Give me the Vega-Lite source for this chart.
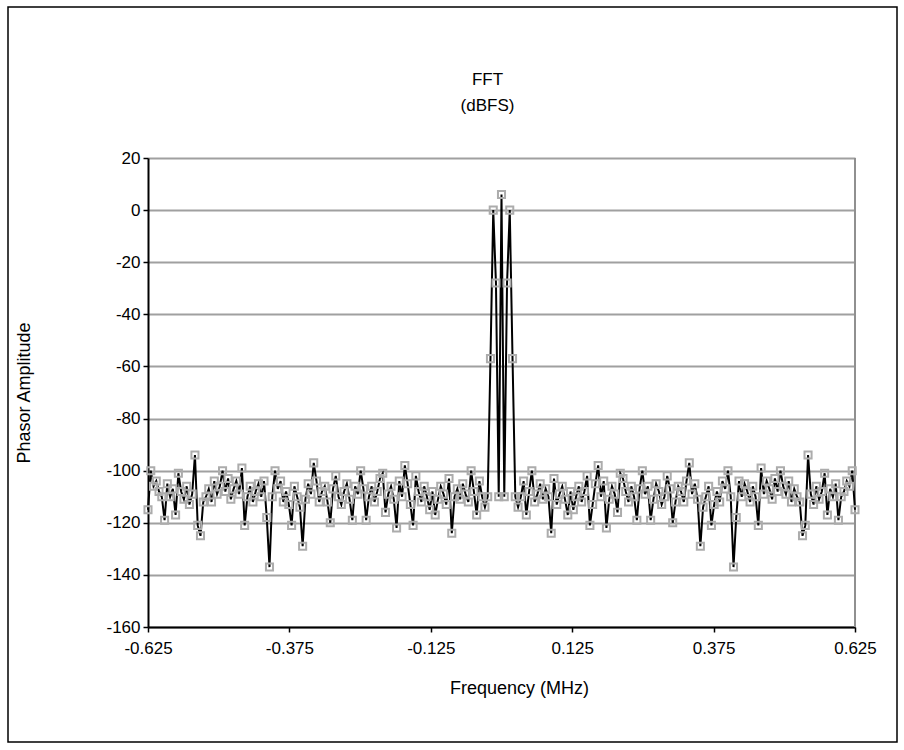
{
"$schema": "https://vega.github.io/schema/vega-lite/v6.json",
"width": 889, "height": 735,
"autosize": "none",
"padding": {"left": 8, "top": 7, "right": 7, "bottom": 8},
"background": "white",
"config": {
  "view": {"stroke": "#000", "strokeWidth": 1.5},
  "font": "Liberation Sans",
  "locale": {"number": {"decimal": ".", "thousands": ",", "grouping": [3], "currency": ["$", ""], "minus": "-"}}
},
"title": {"text": ["FFT", "(dBFS)"], "anchor": "middle", "frame": "group", "orient": "top", "baseline": "top", "offset": -60, "dx": 35, "dy": 48, "fontSize": 17, "fontWeight": "normal", "lineHeight": 26, "color": "#000", "font": "Liberation Sans"},
"data": {"values": [
{"f":-0.625,"a":-115},{"f":-0.6201,"a":-100},{"f":-0.6152,"a":-106},{"f":-0.6104,"a":-104},{"f":-0.6055,"a":-108},{"f":-0.6006,"a":-110},{"f":-0.5957,"a":-119},{"f":-0.5908,"a":-105},{"f":-0.5859,"a":-110},{"f":-0.5811,"a":-107},
{"f":-0.5762,"a":-117},{"f":-0.5713,"a":-101},{"f":-0.5664,"a":-108},{"f":-0.5615,"a":-111},{"f":-0.5566,"a":-106},{"f":-0.5518,"a":-113},{"f":-0.5469,"a":-109},{"f":-0.5420,"a":-94},{"f":-0.5371,"a":-121},{"f":-0.5322,"a":-125},
{"f":-0.5273,"a":-112},{"f":-0.5225,"a":-110},{"f":-0.5176,"a":-107},{"f":-0.5127,"a":-112},{"f":-0.5078,"a":-104},{"f":-0.5029,"a":-109},{"f":-0.4980,"a":-106},{"f":-0.4932,"a":-100},{"f":-0.4883,"a":-108},{"f":-0.4834,"a":-103},
{"f":-0.4785,"a":-111},{"f":-0.4736,"a":-107},{"f":-0.4688,"a":-104},{"f":-0.4639,"a":-109},{"f":-0.4590,"a":-99},{"f":-0.4541,"a":-121},{"f":-0.4492,"a":-110},{"f":-0.4443,"a":-106},{"f":-0.4395,"a":-112},{"f":-0.4346,"a":-108},
{"f":-0.4297,"a":-105},{"f":-0.4248,"a":-110},{"f":-0.4199,"a":-104},{"f":-0.4150,"a":-118},{"f":-0.4102,"a":-137},{"f":-0.4053,"a":-110},{"f":-0.4004,"a":-100},{"f":-0.3955,"a":-107},{"f":-0.3906,"a":-104},{"f":-0.3857,"a":-112},
{"f":-0.3809,"a":-108},{"f":-0.3760,"a":-113},{"f":-0.3711,"a":-121},{"f":-0.3662,"a":-106},{"f":-0.3613,"a":-110},{"f":-0.3564,"a":-114},{"f":-0.3516,"a":-129},{"f":-0.3467,"a":-111},{"f":-0.3418,"a":-105},{"f":-0.3369,"a":-109},
{"f":-0.3320,"a":-97},{"f":-0.3271,"a":-104},{"f":-0.3223,"a":-112},{"f":-0.3174,"a":-108},{"f":-0.3125,"a":-106},{"f":-0.3076,"a":-112},{"f":-0.3027,"a":-120},{"f":-0.2979,"a":-107},{"f":-0.2930,"a":-102},{"f":-0.2881,"a":-110},
{"f":-0.2832,"a":-113},{"f":-0.2783,"a":-108},{"f":-0.2734,"a":-105},{"f":-0.2686,"a":-111},{"f":-0.2637,"a":-119},{"f":-0.2588,"a":-106},{"f":-0.2539,"a":-109},{"f":-0.2490,"a":-100},{"f":-0.2441,"a":-107},{"f":-0.2393,"a":-119},
{"f":-0.2344,"a":-110},{"f":-0.2295,"a":-106},{"f":-0.2246,"a":-112},{"f":-0.2197,"a":-108},{"f":-0.2148,"a":-103},{"f":-0.2100,"a":-101},{"f":-0.2051,"a":-116},{"f":-0.2002,"a":-109},{"f":-0.1953,"a":-106},{"f":-0.1904,"a":-111},
{"f":-0.1855,"a":-122},{"f":-0.1807,"a":-104},{"f":-0.1758,"a":-110},{"f":-0.1709,"a":-98},{"f":-0.1660,"a":-105},{"f":-0.1611,"a":-113},{"f":-0.1563,"a":-121},{"f":-0.1514,"a":-102},{"f":-0.1465,"a":-108},{"f":-0.1416,"a":-112},
{"f":-0.1367,"a":-106},{"f":-0.1318,"a":-110},{"f":-0.1270,"a":-115},{"f":-0.1221,"a":-108},{"f":-0.1172,"a":-117},{"f":-0.1123,"a":-111},{"f":-0.1074,"a":-106},{"f":-0.1025,"a":-109},{"f":-0.0977,"a":-113},{"f":-0.0928,"a":-103},
{"f":-0.0879,"a":-124},{"f":-0.0830,"a":-110},{"f":-0.0781,"a":-107},{"f":-0.0732,"a":-111},{"f":-0.0684,"a":-105},{"f":-0.0635,"a":-109},{"f":-0.0586,"a":-112},{"f":-0.0537,"a":-100},{"f":-0.0488,"a":-108},{"f":-0.0439,"a":-117},
{"f":-0.0391,"a":-104},{"f":-0.0342,"a":-110},{"f":-0.0293,"a":-114},{"f":-0.0244,"a":-110},{"f":-0.0195,"a":-57},{"f":-0.0146,"a":0},{"f":-0.0098,"a":-28},{"f":-0.0049,"a":-110},{"f":0,"a":6},
{"f":0.0049,"a":-110},{"f":0.0098,"a":-28},{"f":0.0146,"a":0},{"f":0.0195,"a":-57},{"f":0.0244,"a":-110},{"f":0.0293,"a":-114},{"f":0.0342,"a":-110},{"f":0.0391,"a":-104},{"f":0.0439,"a":-117},{"f":0.0488,"a":-108},
{"f":0.0537,"a":-100},{"f":0.0586,"a":-112},{"f":0.0635,"a":-109},{"f":0.0684,"a":-105},{"f":0.0732,"a":-111},{"f":0.0781,"a":-107},{"f":0.0830,"a":-110},{"f":0.0879,"a":-124},{"f":0.0928,"a":-103},{"f":0.0977,"a":-113},
{"f":0.1025,"a":-109},{"f":0.1074,"a":-106},{"f":0.1123,"a":-111},{"f":0.1172,"a":-117},{"f":0.1221,"a":-108},{"f":0.1270,"a":-115},{"f":0.1318,"a":-110},{"f":0.1367,"a":-106},{"f":0.1416,"a":-112},{"f":0.1465,"a":-108},
{"f":0.1514,"a":-102},{"f":0.1563,"a":-121},{"f":0.1611,"a":-113},{"f":0.1660,"a":-105},{"f":0.1709,"a":-98},{"f":0.1758,"a":-110},{"f":0.1807,"a":-104},{"f":0.1855,"a":-122},{"f":0.1904,"a":-111},{"f":0.1953,"a":-106},
{"f":0.2002,"a":-109},{"f":0.2051,"a":-116},{"f":0.2100,"a":-101},{"f":0.2148,"a":-103},{"f":0.2197,"a":-108},{"f":0.2246,"a":-112},{"f":0.2295,"a":-106},{"f":0.2344,"a":-110},{"f":0.2393,"a":-119},{"f":0.2441,"a":-107},
{"f":0.2490,"a":-100},{"f":0.2539,"a":-109},{"f":0.2588,"a":-106},{"f":0.2637,"a":-119},{"f":0.2686,"a":-111},{"f":0.2734,"a":-105},{"f":0.2783,"a":-108},{"f":0.2832,"a":-113},{"f":0.2881,"a":-110},{"f":0.2930,"a":-102},
{"f":0.2979,"a":-107},{"f":0.3027,"a":-120},{"f":0.3076,"a":-112},{"f":0.3125,"a":-106},{"f":0.3174,"a":-108},{"f":0.3223,"a":-112},{"f":0.3271,"a":-104},{"f":0.3320,"a":-97},{"f":0.3369,"a":-109},{"f":0.3418,"a":-105},
{"f":0.3467,"a":-111},{"f":0.3516,"a":-129},{"f":0.3564,"a":-114},{"f":0.3613,"a":-110},{"f":0.3662,"a":-106},{"f":0.3711,"a":-121},{"f":0.3760,"a":-113},{"f":0.3809,"a":-108},{"f":0.3857,"a":-112},{"f":0.3906,"a":-104},
{"f":0.3955,"a":-107},{"f":0.4004,"a":-100},{"f":0.4053,"a":-110},{"f":0.4102,"a":-137},{"f":0.4150,"a":-118},{"f":0.4199,"a":-104},{"f":0.4248,"a":-110},{"f":0.4297,"a":-105},{"f":0.4346,"a":-108},{"f":0.4395,"a":-112},
{"f":0.4443,"a":-106},{"f":0.4492,"a":-110},{"f":0.4541,"a":-121},{"f":0.4590,"a":-99},{"f":0.4639,"a":-109},{"f":0.4688,"a":-104},{"f":0.4736,"a":-107},{"f":0.4785,"a":-111},{"f":0.4834,"a":-103},{"f":0.4883,"a":-108},
{"f":0.4932,"a":-100},{"f":0.4980,"a":-106},{"f":0.5029,"a":-109},{"f":0.5078,"a":-104},{"f":0.5127,"a":-112},{"f":0.5176,"a":-107},{"f":0.5225,"a":-110},{"f":0.5273,"a":-112},{"f":0.5322,"a":-125},{"f":0.5371,"a":-121},
{"f":0.5420,"a":-94},{"f":0.5469,"a":-109},{"f":0.5518,"a":-113},{"f":0.5566,"a":-106},{"f":0.5615,"a":-111},{"f":0.5664,"a":-108},{"f":0.5713,"a":-101},{"f":0.5762,"a":-117},{"f":0.5811,"a":-107},{"f":0.5859,"a":-110},
{"f":0.5908,"a":-105},{"f":0.5957,"a":-119},{"f":0.6006,"a":-110},{"f":0.6055,"a":-108},{"f":0.6104,"a":-104},{"f":0.6152,"a":-106},{"f":0.6201,"a":-100},{"f":0.625,"a":-115}
]},
"layer": [
  {"mark": {"type": "rule", "color": "#909090", "strokeWidth": 2},
   "encoding": {"x": {"datum": 0.625, "type": "quantitative"}, "y": {"datum": -160, "type": "quantitative"}, "y2": {"datum": 20}}},
  {"mark": {"type": "line", "color": "#000", "strokeWidth": 2},
   "encoding": {
     "x": {"field": "f", "type": "quantitative",
       "scale": {"domain": [-0.625, 0.625], "range": [140, 847], "nice": false, "zero": false},
       "axis": {"values": [-0.625, -0.375, -0.125, 0.125, 0.375, 0.625], "format": ".3f", "offset": -115, "grid": false,
         "domainColor": "#000", "domainWidth": 2, "tickColor": "#000", "tickSize": 5, "tickWidth": 1.5,
         "labelFontSize": 17, "labelColor": "#000", "labelPadding": 8, "labelFlush": false, "labelFont": "Liberation Sans",
         "title": "Frequency (MHz)", "titleFontSize": 18, "titleFontWeight": "normal", "titleColor": "#000", "titlePadding": 23, "titleX": 511, "titleFont": "Liberation Sans"}},
     "y": {"field": "a", "type": "quantitative",
       "scale": {"domain": [-160, 20], "range": [620, 151], "nice": false, "zero": false},
       "axis": {"values": [20, 0, -20, -40, -60, -80, -100, -120, -140, -160], "offset": -140, "grid": true, "gridColor": "#a0a0a0", "gridWidth": 2,
         "domainColor": "#000", "domainWidth": 2, "tickColor": "#000", "tickSize": 5, "tickWidth": 1.5,
         "labelFontSize": 17, "labelColor": "#000", "labelPadding": 3, "labelFlush": false, "labelFont": "Liberation Sans",
         "title": "Phasor Amplitude", "titleFontSize": 18, "titleFontWeight": "normal", "titleColor": "#000", "titlePadding": 72, "titleFont": "Liberation Sans"}}
   }},
  {"mark": {"type": "point", "shape": "square", "filled": false, "stroke": "#acacac", "strokeWidth": 2, "size": 50, "opacity": 1},
   "encoding": {"x": {"field": "f", "type": "quantitative"}, "y": {"field": "a", "type": "quantitative"}}}
]
}
